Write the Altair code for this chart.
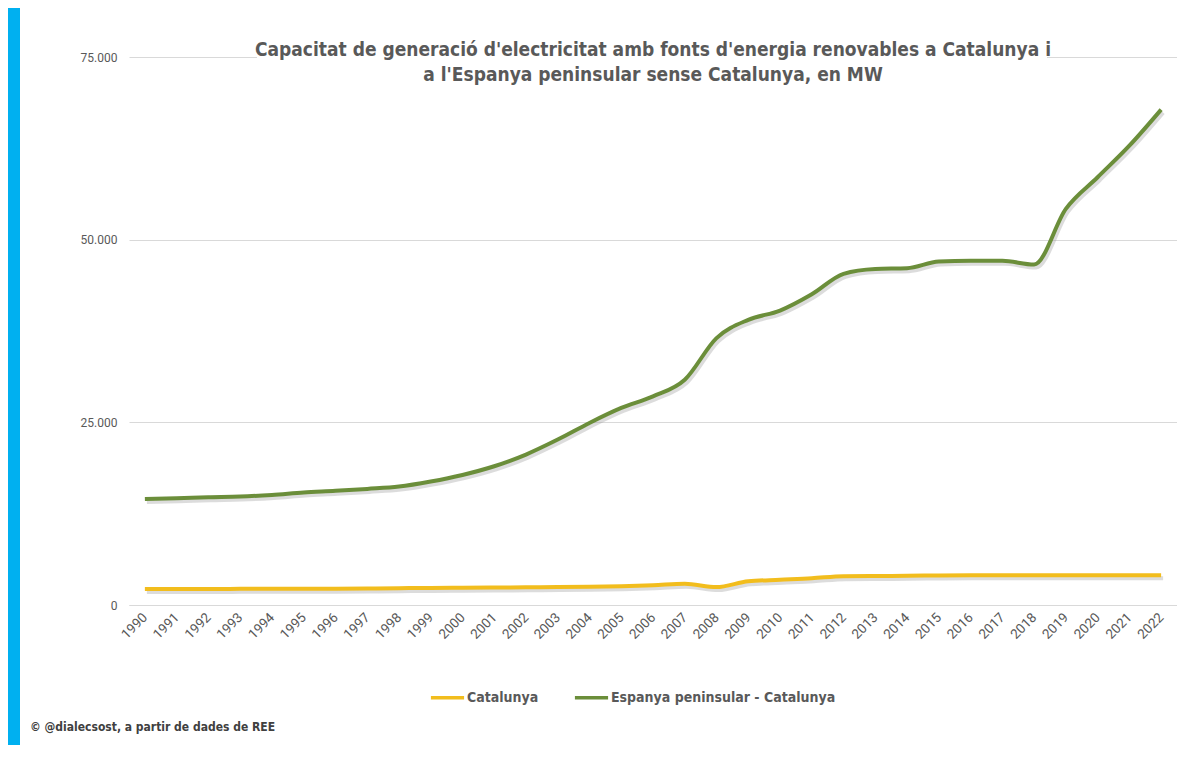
import altair as alt
import pandas as pd

years = [str(y) for y in range(1990, 2023)]
catalunya = [2200, 2200, 2200, 2210, 2220, 2230, 2240, 2260, 2300, 2340, 2370,
             2400, 2420, 2450, 2500, 2580, 2700, 2900, 2450, 3250, 3450, 3650,
             3950, 3980, 3990, 4050, 4060, 4060, 4060, 4070, 4070, 4070, 4070]
espanya = [14520, 14620, 14750, 14840, 15070, 15390, 15620, 15890, 16210, 16900, 17800,
           18990, 20590, 22640, 24920, 26970, 28550, 30830, 36530, 39030, 40300, 42530,
           45325, 45990, 46090, 47000, 47100, 47100, 46600, 54220, 58540, 62860, 67800]
series = ["Catalunya", "Espanya peninsular - Catalunya"]
colors = ["#F2BD1D", "#6B8E3A"]
y_ticks = [0, 25000, 50000, 75000]
title_line1 = "Capacitat de generació d'electricitat  amb fonts d'energia renovables a Catalunya i"
title_line2 = "a l'Espanya peninsular sense Catalunya, en MW"
footer = "© @dialecsost, a partir de dades de REE"

rows = []
for y, c, e in zip(years, catalunya, espanya):
    rows.append({"any": y, "serie": series[0], "MW": c})
    rows.append({"any": y, "serie": series[1], "MW": e})
df = pd.DataFrame(rows)

W, H = 1048, 548
NARROW = "Liberation Sans Narrow, DejaVu Sans Condensed, Roboto, sans-serif"

x_enc = alt.X("any:O", scale=alt.Scale(type="point", padding=0.5),
              axis=alt.Axis(title=None, labelAngle=-45, labelAlign="right", labelBaseline="middle",
                            labelPadding=10, ticks=False, domainColor="#D9D9D9", grid=False,
                            labelFont="Roboto", labelFontSize=13.5, labelColor="#595959"))
y_enc = alt.Y("MW:Q", scale=alt.Scale(domain=[0, 75000], nice=False),
              axis=alt.Axis(title=None, values=y_ticks, ticks=False, domain=False,
                            gridColor="#D9D9D9", labelPadding=12,
                            labelExpr="replace(format(datum.value, ','), ',', '.')",
                            labelFont="Roboto", labelFontSize=12, labelColor="#595959"))

base = alt.Chart(df)

shadow = base.mark_line(interpolate="monotone", strokeWidth=4, color="#9a9a9a",
                        opacity=0.35, xOffset=2, yOffset=3).encode(
    x=x_enc, y=y_enc, detail="serie:N")

lines = base.mark_line(interpolate="monotone", strokeWidth=4).encode(
    x=x_enc, y=y_enc,
    color=alt.Color("serie:N", scale=alt.Scale(domain=series, range=colors),
                    legend=alt.Legend(title=None, orient="none", legendX=300, legendY=622,
                                      direction="horizontal", symbolType="stroke",
                                      symbolSize=1100, symbolStrokeWidth=3.5,
                                      labelFont=NARROW, labelFontSize=14, labelFontWeight="bold",
                                      labelColor="#595959", labelOffset=1, columnPadding=28,
                                      labelLimit=400)))

one = pd.DataFrame({"k": [0]})
blue_strip = alt.Chart(one).mark_rect(color="#00B0F0").encode(
    x=alt.value(-121), x2=alt.value(-109), y=alt.value(-49), y2=alt.value(688))
title_bg = alt.Chart(one).mark_rect(color="white").encode(
    x=alt.value(128), x2=alt.value(918), y=alt.value(-5), y2=alt.value(5))
t1 = alt.Chart(one).mark_text(text=title_line1, align="center", baseline="middle", font=NARROW,
                              fontSize=19, fontWeight="bold", color="#595959").encode(
    x=alt.value(W / 2), y=alt.value(-7))
t2 = alt.Chart(one).mark_text(text=title_line2, align="center", baseline="middle", font=NARROW,
                              fontSize=19, fontWeight="bold", color="#595959").encode(
    x=alt.value(W / 2), y=alt.value(18))
foot = alt.Chart(one).mark_text(text=footer, align="left", baseline="middle", font=NARROW,
                                fontSize=12, fontWeight="bold", color="#404040").encode(
    x=alt.value(-99), y=alt.value(670))

chart = alt.layer(blue_strip, title_bg, shadow, lines, t1, t2, foot).properties(
    width=W, height=H, padding=0,
    background="white",
).configure_view(stroke=None)

chart.save("out.html", embed_options={"renderer": "svg", "actions": False})
